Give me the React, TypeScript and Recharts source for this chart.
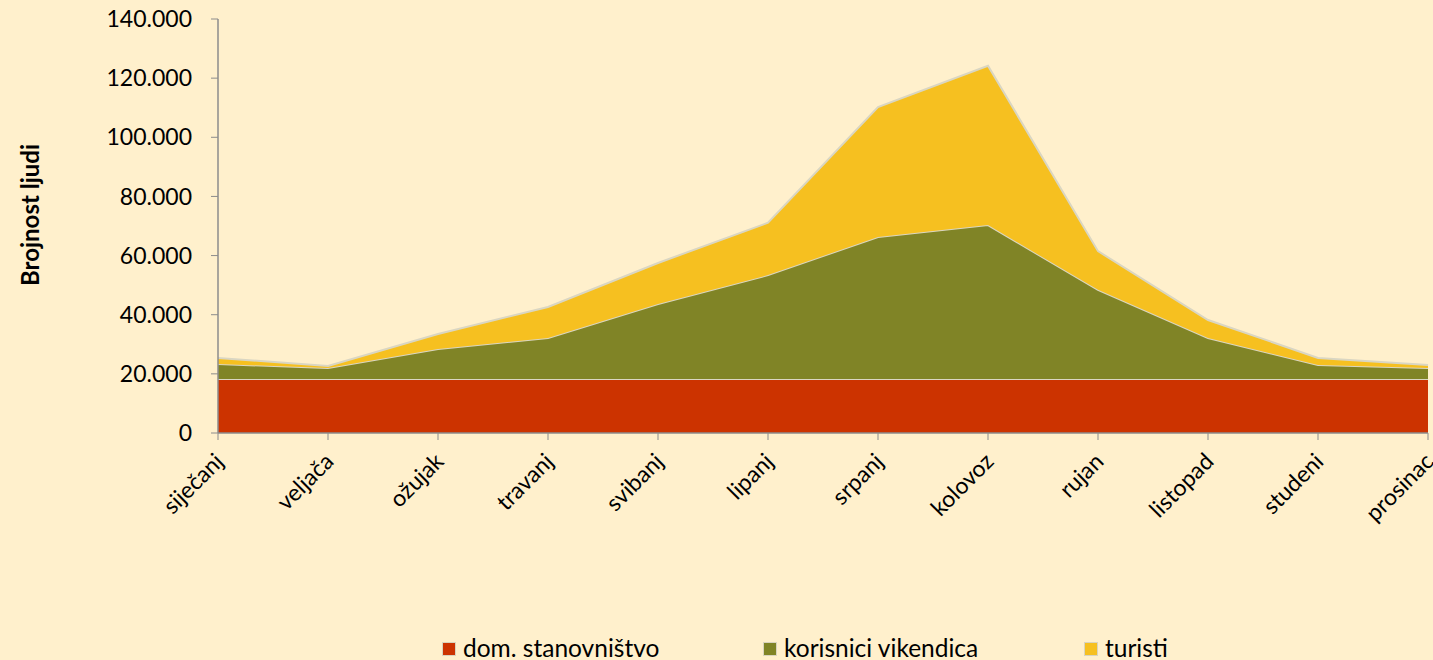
import React from "react";
import { AreaChart, Area, XAxis, YAxis, Legend } from "recharts";

const months = ["siječanj", "veljača", "ožujak", "travanj", "svibanj", "lipanj", "srpanj", "kolovoz", "rujan", "listopad", "studeni", "prosinac"];
const domStanovnistvo = [18300, 18300, 18300, 18300, 18300, 18300, 18300, 18300, 18300, 18300, 18300, 18300];
const korisniciVikendica = [5000, 3700, 10100, 13800, 25300, 35100, 48000, 52000, 30100, 13800, 4700, 3700];
const turisti = [2100, 700, 5100, 10500, 13900, 17700, 43900, 53900, 13100, 6100, 2400, 1000];
const yTicks = [0, 20000, 40000, 60000, 80000, 100000, 120000, 140000];

const seriesNames = ["dom. stanovništvo", "korisnici vikendica", "turisti"];
const colors = ["#CC3300", "#808426", "#F6C020"];

const data = months.map((m, i) => ({
  month: m,
  dom: domStanovnistvo[i],
  kor: korisniciVikendica[i],
  tur: turisti[i],
}));

const FONT = "Lato, 'Open Sans', sans-serif";

const fmt = (v: number) => v.toLocaleString("de-DE");

const XTick = (props: any) => {
  const { x, y, payload } = props;
  const ax = x + 7;
  const ay = y + 21;
  return (
    <text
      x={ax}
      y={ay}
      textAnchor="end"
      transform={`rotate(-45, ${ax}, ${ay})`}
      fontSize={23}
      fontFamily={FONT}
      fill="#000"
    >
      {payload.value}
    </text>
  );
};

const YLabel = () => (
  <text
    x={29}
    y={215}
    transform="rotate(-90, 29, 215)"
    textAnchor="middle"
    dominantBaseline="central"
    fontSize={24}
    fontWeight="bold"
    fontFamily={FONT}
    fill="#000"
  >
    Brojnost ljudi
  </text>
);

const LegendContent = () => (
  <div style={{ display: "flex", paddingLeft: 442, fontFamily: FONT, fontSize: 24.5, color: "#000", lineHeight: "28px" }}>
    {seriesNames.map((n, i) => (
      <div key={n} style={{ width: 321, display: "flex", alignItems: "center" }}>
        <span
          style={{
            display: "inline-block",
            boxSizing: "border-box",
            width: 14,
            height: 14,
            background: colors[i],
            border: "1.5px solid #D9D4BF",
            marginRight: 7,
            marginTop: 2,
          }}
        />
        <span>{n}</span>
      </div>
    ))}
  </div>
);

export default function App() {
  return (
    <div style={{ position: "absolute", left: 0, top: 0, width: 1433, height: 660, background: "#FFF0CC" }}>
      <AreaChart
        width={1433}
        height={660}
        data={data}
        margin={{ top: 19, right: 5, left: 0, bottom: 0 }}
      >
        <XAxis
          dataKey="month"
          height={227}
          interval={0}
          tick={<XTick />}
          tickSize={7}
          stroke="#8C8C8C"
          tickLine={{ stroke: "#8C8C8C" }}
          axisLine={{ stroke: "#8C8C8C", strokeWidth: 1.5 }}
        />
        <YAxis
          width={218}
          domain={[0, 140000]}
          ticks={yTicks}
          tickFormatter={fmt}
          tickSize={7}
          tickMargin={19}
          interval={0}
          tick={{ fill: "#000", fontSize: 23, fontFamily: FONT }}
          stroke="#8C8C8C"
          axisLine={{ stroke: "#8C8C8C", strokeWidth: 1.5 }}
          label={{ content: () => <YLabel /> }}
        />
        <Area type="linear" dataKey="dom" stackId="a" name={seriesNames[0]} fill={colors[0]} fillOpacity={1} stroke="#DAD6C2" strokeWidth={2} isAnimationActive={false} />
        <Area type="linear" dataKey="kor" stackId="a" name={seriesNames[1]} fill={colors[1]} fillOpacity={1} stroke="#DAD6C2" strokeWidth={2} isAnimationActive={false} />
        <Area type="linear" dataKey="tur" stackId="a" name={seriesNames[2]} fill={colors[2]} fillOpacity={1} stroke="#DAD6C2" strokeWidth={2} isAnimationActive={false} />
        <Legend
          layout="horizontal"
          verticalAlign="middle"
          align="center"
          content={<LegendContent />}
          wrapperStyle={{ top: 634, left: 0, width: 1433 }}
        />
      </AreaChart>
    </div>
  );
}
